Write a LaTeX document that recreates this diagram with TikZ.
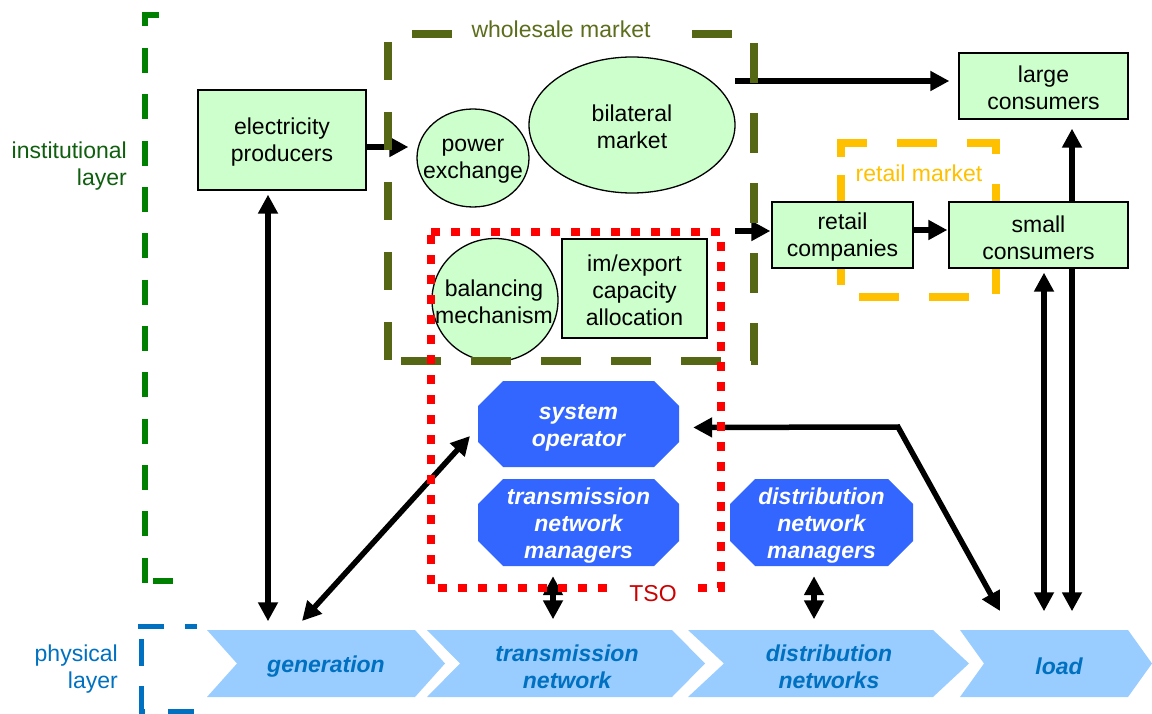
\documentclass[tikz,border=0pt]{standalone}
\usepackage{fontspec}
\setmainfont{Liberation Sans}
\usetikzlibrary{arrows.meta,shapes.geometric,calc}
\definecolor{lgreen}{HTML}{CCFFCC}
\definecolor{octblue}{HTML}{3366FF}
\definecolor{chevfill}{HTML}{99CCFF}
\definecolor{ctxt}{HTML}{0070C0}
\definecolor{dgreen}{HTML}{008000}
\definecolor{instgreen}{HTML}{0F5F0F}
\definecolor{olivec}{HTML}{556614}
\definecolor{olivetext}{HTML}{5C6E1C}
\definecolor{tsored}{HTML}{CC0000}
\definecolor{retailc}{HTML}{FFC000}
\newcommand{\myoct}[4]{\fill[octblue] ({#1-#3/2+25},{#2-#4/2}) -- ({#1+#3/2-25},{#2-#4/2}) -- ({#1+#3/2},{#2-#4/2+25}) -- ({#1+#3/2},{#2+#4/2-25}) -- ({#1+#3/2-25},{#2+#4/2}) -- ({#1-#3/2+25},{#2+#4/2}) -- ({#1-#3/2},{#2+#4/2-25}) -- ({#1-#3/2},{#2-#4/2+25}) -- cycle;}
\newcommand{\mychev}[3]{\fill[chevfill] (#1,630) -- (#2,630) -- ({#2+#3},663.5) -- (#2,697) -- (#1,697) -- ({#1+#3},663.5) -- cycle;}
\begin{document}
\begin{tikzpicture}[x=1pt,y=-1pt,
  every node/.style={font=\fontsize{23}{27}\selectfont, inner sep=0pt, align=center},
  box/.style={draw=black,line width=1.3pt,fill=lgreen,rectangle},
  ell/.style={draw=black,line width=1.3pt,fill=lgreen,ellipse},
  otext/.style={text=white,font=\fontsize{23}{27}\selectfont\bfseries\itshape},
  ctext/.style={text=ctxt,font=\fontsize{23}{27}\selectfont\bfseries\itshape},
  arr/.style={line width=5.5pt,-{Triangle[length=19pt,width=19pt]}},
  biarr/.style={line width=5.5pt,{Triangle[length=19pt,width=19pt]}-{Triangle[length=19pt,width=19pt]}},
]
\useasboundingbox (0,0) rectangle (1152,714);

% physical layer chevrons
\mychev{207}{415}{30}
\mychev{427}{672}{33}
\mychev{688}{933}{36}
\mychev{960}{1128}{24}
\node[ctext, minimum height=67pt] (gen) at (326,666.5) {generation};
\node[ctext, minimum height=67pt] (trans) at (567,666.5) {transmission\\network};
\node[ctext, minimum height=67pt] (dist) at (829,666.5) {distribution\\networks};
\node[ctext, minimum height=67pt] (load) at (1059,666.5) {load};

% octagons
\myoct{578.5}{424}{201}{86}
\myoct{578.5}{522.5}{201}{87}
\myoct{821.5}{522.5}{183}{87}
\node[otext, minimum width=201pt, minimum height=86pt] (sysop) at (578.5,427.5) {system\\operator};
\node[otext, minimum width=201pt, minimum height=87pt] (tnm) at (578.5,526) {transmission\\network\\managers};
\node[otext, minimum width=183pt, minimum height=87pt] (dnm) at (821.5,526) {distribution\\network\\managers};

% retail market frame
\draw[retailc, line width=8pt, dash pattern=on 40pt off 30pt] (841,157) -- (841,143) -- (996,143) -- (996,297) -- (841,297) -- cycle;
\node[text=retailc] (rmlabel) at (919,173) {retail market};

% boxes
\node[box, minimum width=168pt, minimum height=100pt] (prod) at (282,140) {};
\node (prodt) at (282,142) {electricity\\producers};
\node[box, minimum width=169pt, minimum height=66pt] (lc) at (1043.5,86) {};
\node (lct) at (1043.5,87.5) {large\\consumers};
\node[box, minimum width=141pt, minimum height=66pt] (rc) at (842.5,235) {};
\node (rct) at (842.5,237.5) {retail\\companies};
\node[box, minimum width=179pt, minimum height=66pt] (sc) at (1038.5,235) {};
\node (sct) at (1038.5,237.5) {small\\consumers};
\node[box, minimum width=145pt, minimum height=99pt] (imex) at (634.5,288.5) {};
\node (imext) at (634.5,290.5) {im/export\\capacity\\allocation};

% ellipses
\node[ell, minimum width=112pt, minimum height=98pt] (pex) at (473,158) {};
\node (pext) at (473,161) {power\\exchange};
\node[ell, minimum width=206pt, minimum height=136pt] (bil) at (632,125) {};
\node (bilt) at (632,127) {bilateral\\market};
\node[ell, minimum width=126pt, minimum height=123pt] (bal) at (495,300) {};
\node (balt) at (494,302) {balancing\\mechanism};

% helper coordinates
\coordinate (wsA) at (735,81);
\coordinate (wsB) at (735,231);
\coordinate (xr) at (1072,400);
\coordinate (xl) at (1044,400);
\coordinate (xp) at (268,400);
\coordinate (xt) at (553,400);
\coordinate (xd) at (814,400);
\coordinate (bend) at (898,427);
\coordinate (loadA) at (1000,611);
\coordinate (genA) at (302,621);
\coordinate (soA) at (470,436);

% connectors
\draw[arr, shorten >=8pt] ([yshift=-7pt]prod.east) -- ([yshift=-7pt]prod.east -| pex.west);
\draw[arr, shorten >=9pt] (wsA) -- (wsA -| lc.west);
\draw[arr, shorten >=1pt] (wsB) -- (wsB -| rc.west);
\draw[arr, shorten >=1pt] ([yshift=5pt]rc.east) -- ([yshift=5pt]rc.east -| sc.west);
\draw[arr, shorten >=9pt] (sc.north -| xr) -- (lc.south -| xr);
\draw[arr, shorten >=21.5pt] (sc.south -| xr) -- (load.north -| xr);
\draw[biarr, shorten <=4pt, shorten >=21.5pt] (sc.south -| xl) -- (load.north -| xl);
\draw[biarr, shorten <=14pt] (sysop.east) -- (bend) -- (loadA);
\draw[biarr] (genA) -- (soA);
\draw[biarr, shorten <=4pt, shorten >=11.5pt] (prod.south -| xp) -- (gen.north -| xp);
\draw[biarr, shorten <=6.5pt, shorten >=13.5pt] (tnm.south -| xt) -- (trans.north -| xt);
\draw[biarr, shorten <=6.5pt, shorten >=13.5pt] (dnm.south -| xd) -- (dist.north -| xd);

% wholesale market frame
\draw[olivec, line width=8pt, dash pattern=on 40pt off 30pt, dash phase=46pt] (388,34.5) -- (753.5,34.5) -- (753.5,360.5) -- (388,360.5);
\draw[olivec, line width=8pt, dash pattern=on 38pt off 32pt] (388,42) -- (388,362);
\node[fill=white, text=olivetext, minimum width=206pt, inner ysep=4pt] (wm) at (561,29) {wholesale market};

% TSO frame
\draw[red, line width=8pt, dash pattern=on 9pt off 11pt] (431,232) -- (721,232) -- (721,588) -- (431,588) -- cycle;
\node[fill=white, text=tsored, minimum width=78pt, inner ysep=3pt] (tso) at (653,594) {TSO};

% layer brackets
\draw[dgreen, line width=6pt, dash pattern=on 25pt off 21.36pt] (159,15.5) -- (145,15.5) -- (145,583);
\draw[dgreen, line width=6pt] (153,581) -- (173,581);
\draw[ctxt, line width=5pt] (138,626) -- (164,626);
\draw[ctxt, line width=5pt] (185,626) -- (197,626);
\draw[ctxt, line width=5pt] (141,639) -- (141,666);
\draw[ctxt, line width=5pt] (141,686) -- (141,711.5) -- (145,711.5);
\draw[ctxt, line width=5pt] (168,711.5) -- (194,711.5);

% layer labels
\node[text=instgreen, anchor=east, align=right] (inst) at (127,166) {institutional\\layer};
\node[text=ctxt, anchor=east, align=right] (phys) at (118,669) {physical\\layer};
\end{tikzpicture}
\end{document}
